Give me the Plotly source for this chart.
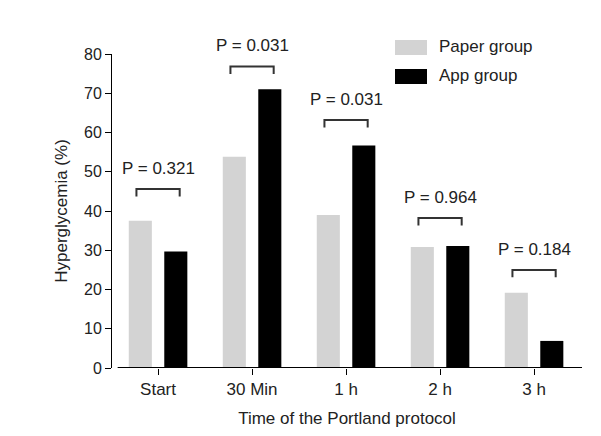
import plotly.graph_objects as go

# Data
times = ["Start", "30 Min", "1 h", "2 h", "3 h"]
paper_group = [37.5, 53.8, 39.0, 30.8, 19.2]
app_group = [29.7, 71.0, 56.7, 31.1, 6.9]
p_values = ["P = 0.321", "P = 0.031", "P = 0.031", "P = 0.964", "P = 0.184"]
bracket_y = [45.6, 76.8, 63.2, 38.2, 25.0]

FONT = "Liberation Sans, Arial, sans-serif"
Y_MAX = 80
x = list(range(len(times)))

fig = go.Figure()

fig.add_trace(go.Bar(
    x=x, y=paper_group, name="Paper group",
    marker=dict(color="#d3d3d3", line=dict(width=0)), showlegend=False
))
fig.add_trace(go.Bar(
    x=x, y=app_group, name="App group",
    marker=dict(color="#000000", line=dict(width=0)), showlegend=False
))

# Significance brackets and p-value labels
for i, (label, by) in enumerate(zip(p_values, bracket_y)):
    fig.add_shape(
        type="path",
        path=f"M {i - 0.23},{by - 1.9} L {i - 0.23},{by} L {i + 0.23},{by} L {i + 0.23},{by - 1.9}",
        line=dict(color="#333333", width=2), xref="x", yref="y"
    )
    # paper y so labels above the axis range are not hidden
    fig.add_annotation(
        x=i, y=(by + 5.3) / Y_MAX, text=label, showarrow=False,
        yanchor="middle",
        font=dict(family=FONT, size=17, color="#222222"), xref="x", yref="paper"
    )

# x axis baseline (starts slightly right of the y axis)
fig.add_shape(type="line", x0=-0.43, x1=4.51, y0=0, y1=0,
              line=dict(color="#000000", width=2), xref="x", yref="y")

# Hand-drawn legend (pixel positions relative to the plot area)
legend_items = [("Paper group", "#d3d3d3"), ("App group", "#000000")]
for k, (name, color) in enumerate(legend_items):
    top = 40 + k * 29
    fig.add_shape(type="rect", xref="paper", yref="paper",
                  x0=(395 - 112) / 470, x1=(427 - 112) / 470,
                  y0=(368 - top - 15) / 314, y1=(368 - top) / 314,
                  fillcolor=color, line=dict(width=0))
    fig.add_annotation(x=(437 - 112) / 470, y=(368 - top - 6.5) / 314,
                       xref="paper", yref="paper", xanchor="left", yanchor="middle",
                       text=name, showarrow=False,
                       font=dict(family=FONT, size=17, color="#222222"))

fig.update_layout(
    width=593, height=428,
    margin=dict(l=104, r=19, t=46, b=68),
    paper_bgcolor="white", plot_bgcolor="white",
    barmode="group", bargap=0.245, bargroupgap=0.35,
    font=dict(family=FONT, color="#222222"),
    xaxis=dict(
        range=[-0.49, 4.51], tickvals=x, ticktext=times,
        showline=False, showgrid=False, zeroline=False,
        ticks="outside", ticklen=6, tickwidth=1, tickcolor="#000000",
        tickfont=dict(family=FONT, size=17, color="#222222"),
        title=dict(text="Time of the Portland protocol",
                   font=dict(family=FONT, size=17, color="#222222"), standoff=13)
    ),
    yaxis=dict(
        range=[0, Y_MAX], tickvals=list(range(0, Y_MAX + 1, 10)),
        showline=True, linecolor="#000000", linewidth=1,
        showgrid=False, zeroline=False,
        ticks="outside", ticklen=6, tickwidth=1, tickcolor="#000000",
        tickfont=dict(family=FONT, size=16, color="#222222"),
        title=dict(text="Hyperglycemia (%)",
                   font=dict(family=FONT, size=17, color="#222222"), standoff=12)
    ),
)

fig.write_html("out.html")
